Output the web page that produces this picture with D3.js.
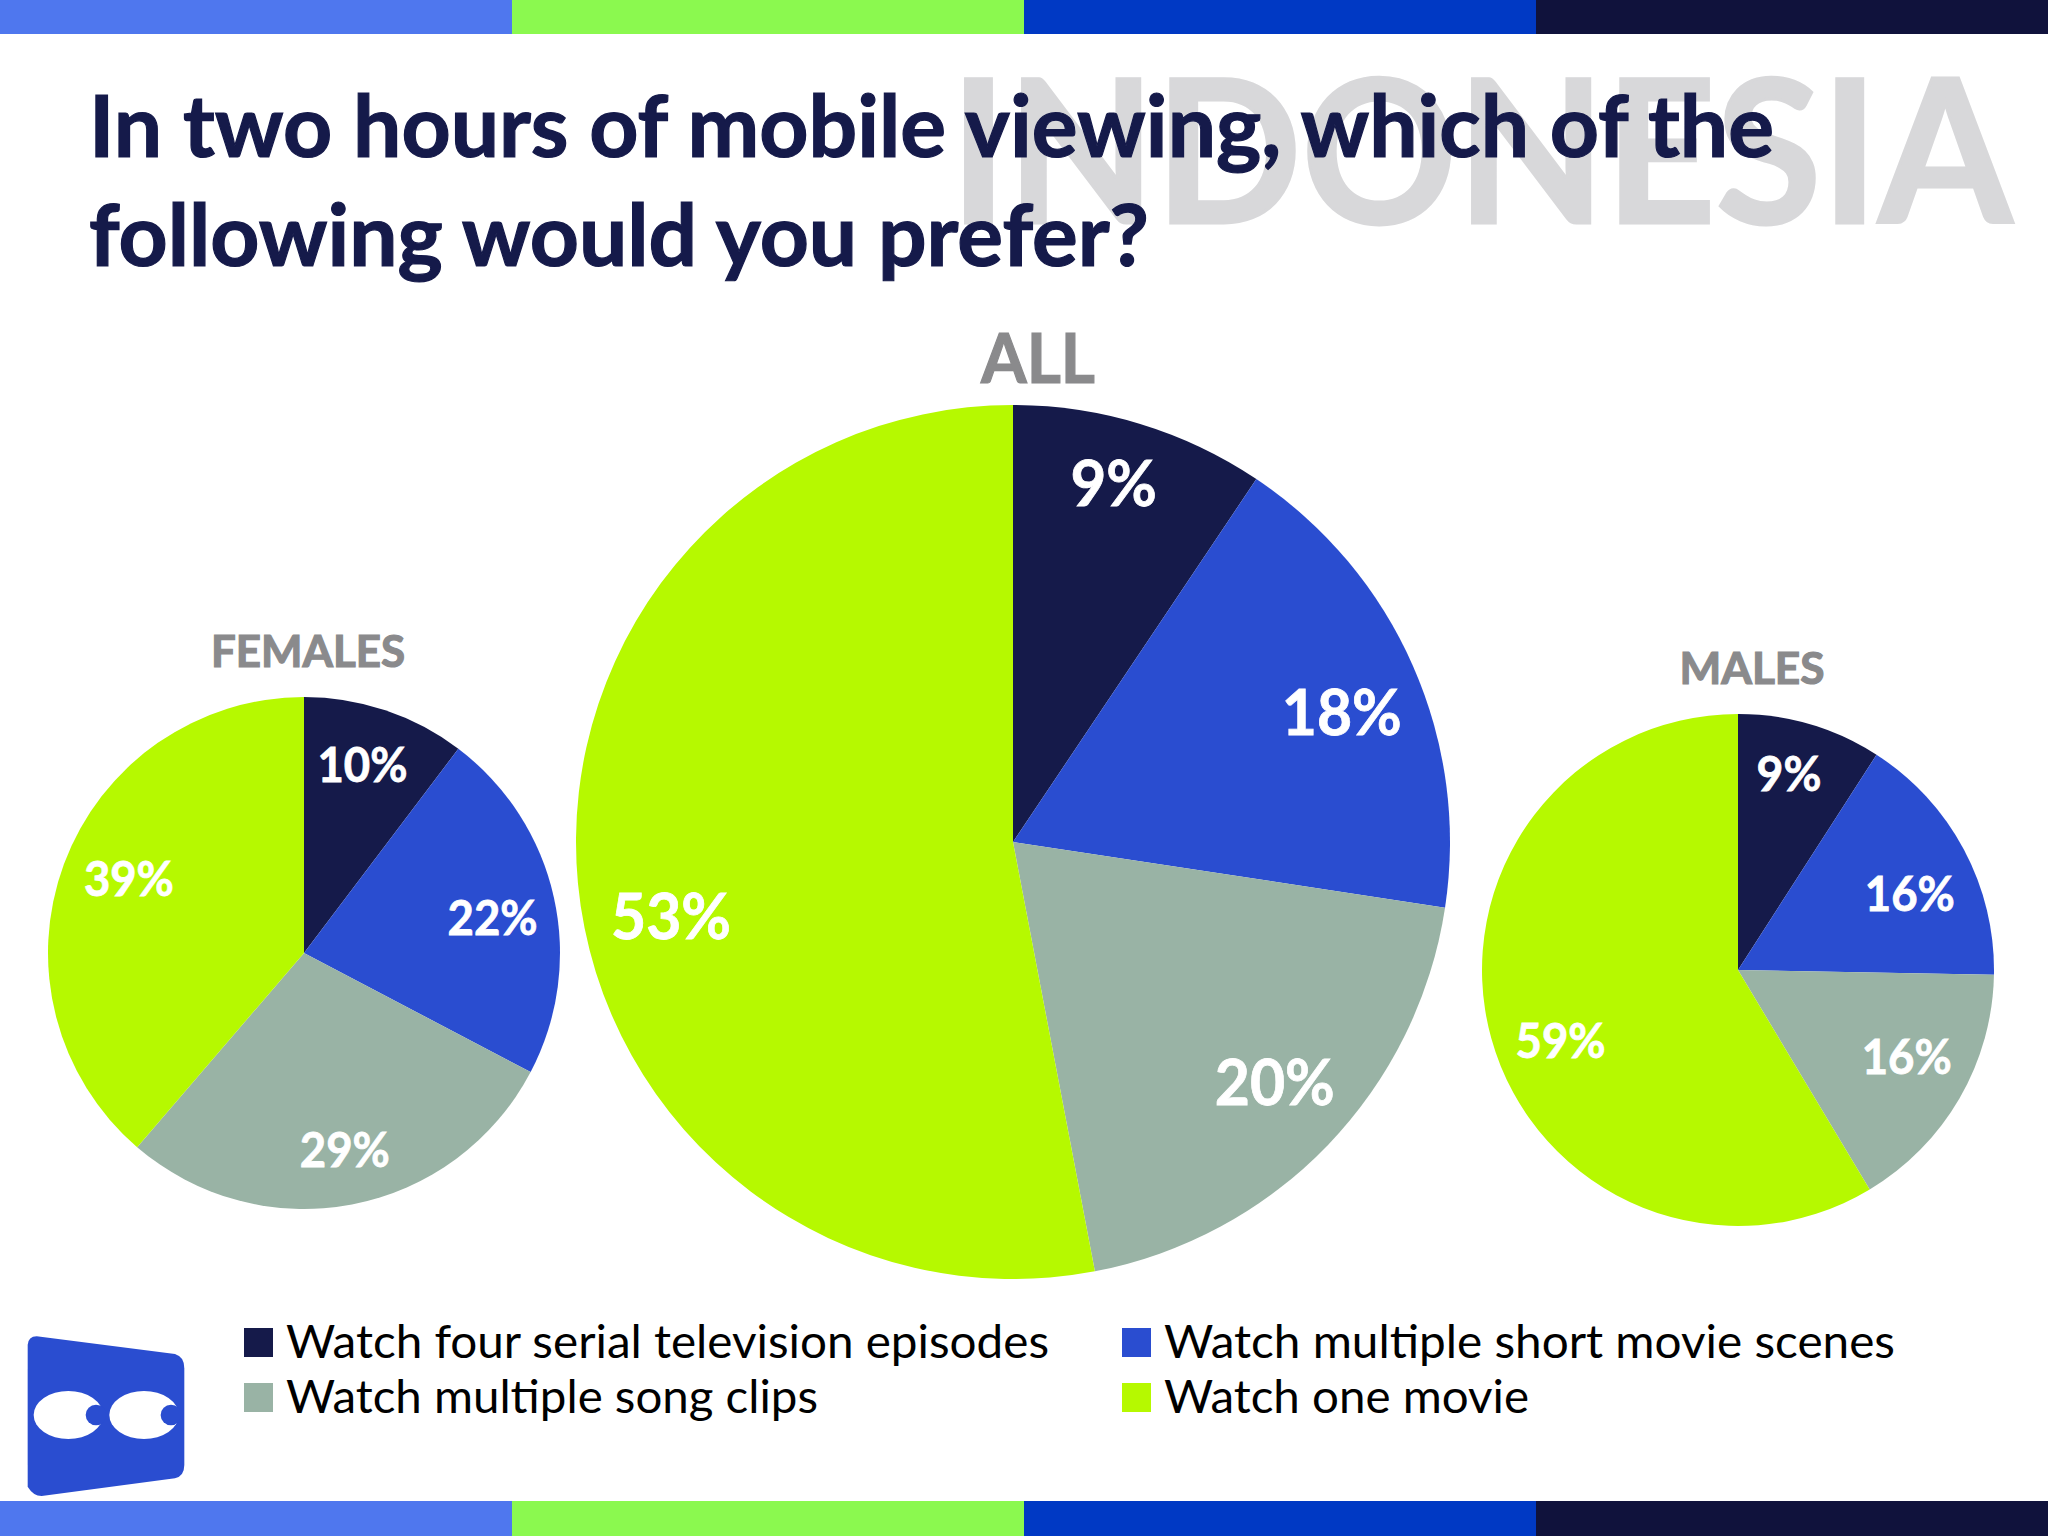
<!DOCTYPE html>
<html>
<head>
<meta charset="utf-8">
<script src="https://cdn.jsdelivr.net/npm/d3@7"></script>
<style>
  html, body { margin: 0; padding: 0; background: #fff; }
  text { font-family: Lato, Carlito, sans-serif; }
</style>
</head>
<body>
<div id="chart"></div>
<script>
const categories = ["Watch four serial television episodes", "Watch multiple short movie scenes", "Watch multiple song clips", "Watch one movie"];
const allValues = [9.4, 18, 19.6, 53];
const femaleValues = [10.3, 22.4, 28.6, 38.7];
const maleValues = [9.1, 16.2, 16.1, 58.6];
const pieNames = ["ALL", "FEMALES", "MALES"];
const titleLines = ["In two hours of mobile viewing, which of the", "following would you prefer?"];
const country = "INDONESIA";

const width = 2048;
const height = 1536;

const colour = d3.scaleOrdinal().domain(categories).range(["#151a4a", "#2a4dd0", "#99b3a5", "#b6f900"]);
const barColours = ["#4f77ee", "#8bf94f", "#0039c4", "#10123c"];

const svg = d3.select("#chart").append("svg")
    .attr("width", width)
    .attr("height", height)
    .style("display", "block");

// text helper, textLength squeezes Lato down to the narrower look of the original font
function addText(str, x, y, size, len, opts = {}) {
    const fill = opts.fill || "#151a4a";
    return svg.append("text")
        .attr("x", x)
        .attr("y", y)
        .attr("font-size", size)
        .attr("font-weight", 700)
        .attr("fill", fill)
        .attr("stroke", fill)
        .attr("stroke-width", opts.stroke || 1.2)
        .attr("text-anchor", opts.anchor || "start")
        .attr("textLength", len)
        .attr("lengthAdjust", "spacingAndGlyphs")
        .text(str);
}

// colour bars top and bottom
const barX = d3.scaleBand().domain(d3.range(4)).range([0, width]);
[[0, 34], [1501, 35]].forEach(([y, h]) => {
    svg.append("g").selectAll("rect")
        .data(barColours)
        .join("rect")
        .attr("x", (d, i) => barX(i))
        .attr("y", y)
        .attr("width", barX.bandwidth())
        .attr("height", h)
        .attr("fill", d => d);
});

addText(country, 950, 223, 200, 1062, { fill: "#d8d8da", stroke: 3 });
addText(titleLines[0], 89, 157, 86, 1685);
addText(titleLines[1], 89, 266, 86, 1060);

// label placement per slice: fraction of radius, angle shift in degrees
const pies = [
    { name: pieNames[0], values: allValues, cx: 1013, cy: 842, r: 437, font: 64,
      titleX: 1038, titleY: 383, titleSize: 68, titleLen: 114, labelLen: 120,
      place: [[0.855, -1.3], [0.81, 2.0], [0.81, -1.6], [0.80, -6.6]] },
    { name: pieNames[1], values: femaleValues, cx: 304, cy: 953, r: 256, font: 48,
      titleX: 308, titleY: 667, titleSize: 44, titleLen: 194, labelLen: 90,
      place: [[0.775, -1.4], [0.75, 1.7], [0.78, -1], [0.745, 3]] },
    { name: pieNames[2], values: maleValues, cx: 1738, cy: 970, r: 256, font: 48,
      titleX: 1752, titleY: 684, titleSize: 44, titleLen: 145, labelLen: 90,
      place: [[0.796, -1.9], [0.735, 4], [0.74, -3], [0.745, -6]] }
];

const pie = d3.pie().sort(null);

pies.forEach(p => {
    const arc = d3.arc().innerRadius(0).outerRadius(p.r);
    const slices = pie(p.values);
    const g = svg.append("g").attr("transform", `translate(${p.cx},${p.cy})`);
    const midAngle = (d, i) => (d.startAngle + d.endAngle) / 2 + p.place[i][1] * Math.PI / 180;

    g.selectAll("path")
        .data(slices)
        .join("path")
        .attr("d", arc)
        .attr("fill", (d, i) => colour(categories[i]));

    g.selectAll("text")
        .data(slices)
        .join("text")
        .attr("x", (d, i) => p.r * p.place[i][0] * Math.sin(midAngle(d, i)))
        .attr("y", (d, i) => -p.r * p.place[i][0] * Math.cos(midAngle(d, i)))
        .attr("dy", "0.38em")
        .attr("text-anchor", "middle")
        .attr("font-size", p.font)
        .attr("font-weight", 700)
        .attr("fill", "#fff")
        .attr("stroke", "#fff")
        .attr("stroke-width", 0.8)
        // single digit labels are narrower
        .attr("textLength", d => Math.round(d.data) < 10 ? p.labelLen * 0.72 : p.labelLen)
        .attr("lengthAdjust", "spacingAndGlyphs")
        .text(d => Math.round(d.data) + "%");

    addText(p.name, p.titleX, p.titleY, p.titleSize, p.titleLen, { fill: "#8a8a8c", anchor: "middle" });
});

// legend
const legendX = [244, 1122];
const legendY = [1328, 1383];
const legendLen = [763, 731, 532, 365];
const legend = svg.append("g").selectAll("g")
    .data(categories)
    .join("g")
    .attr("transform", (d, i) => `translate(${legendX[i % 2]},${legendY[Math.floor(i / 2)]})`);

legend.append("rect")
    .attr("width", 29)
    .attr("height", 29)
    .attr("fill", d => colour(d));

legend.append("text")
    .attr("x", 42)
    .attr("y", 30)
    .attr("font-size", 46)
    .attr("fill", "#000")
    .attr("textLength", (d, i) => legendLen[i])
    .attr("lengthAdjust", "spacingAndGlyphs")
    .text(d => d);

// logo
const logo = svg.append("g").attr("transform", "translate(0,1260) scale(0.3333)");
logo.append("path")
    .attr("d", "M110,229 L525,282 Q553,290 553,325 L553,615 Q553,648 525,655 L125,708 Q100,708 83,680 L83,255 Q85,229 110,229 Z")
    .attr("fill", "#2a4dd0");
[[205, 465, 288], [432, 465, 513]].forEach(([ex, ey, px]) => {
    logo.append("ellipse").attr("cx", ex).attr("cy", ey).attr("rx", 104).attr("ry", 72).attr("fill", "#fff");
    logo.append("circle").attr("cx", px).attr("cy", ey).attr("r", 31).attr("fill", "#2a4dd0");
});
</script>
</body>
</html>
